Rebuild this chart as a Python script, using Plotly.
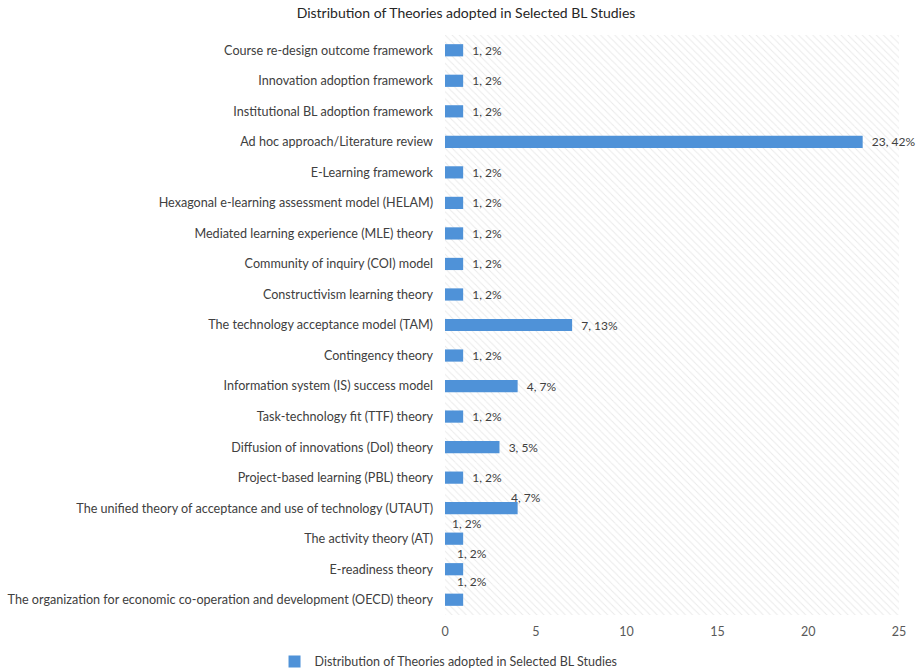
import plotly.graph_objects as go

# Theories and how many selected BL studies adopted each (count, share of 55)
theories = [
    "Course re-design outcome framework",
    "Innovation adoption framework",
    "Institutional BL adoption framework",
    "Ad hoc approach/Literature review",
    "E-Learning framework",
    "Hexagonal e-learning assessment model (HELAM)",
    "Mediated learning experience (MLE) theory",
    "Community of inquiry (COI) model",
    "Constructivism learning theory",
    "The technology acceptance model (TAM)",
    "Contingency theory",
    "Information system (IS) success model",
    "Task-technology fit (TTF) theory",
    "Diffusion of innovations (DoI) theory",
    "Project-based learning (PBL) theory",
    "The unified theory of acceptance and use of technology (UTAUT)",
    "The activity theory (AT)",
    "E-readiness theory",
    "The organization for economic co-operation and development (OECD) theory",
]
counts = [1, 1, 1, 23, 1, 1, 1, 1, 1, 7, 1, 4, 1, 3, 1, 4, 1, 1, 1]
percents = [2, 2, 2, 42, 2, 2, 2, 2, 2, 13, 2, 7, 2, 5, 2, 7, 2, 2, 2]
x_ticks = [0, 5, 10, 15, 20, 25]

series_name = "Distribution of Theories adopted in Selected BL Studies"
bar_color = "#4f92d8"
text_color = "#404040"
font_family = "Lato, Open Sans, sans-serif"

labels = [f"{c}, {p}%" for c, p in zip(counts, percents)]
# the last four labels sit above their bars
n_above = 4
inline_labels = ["  " + s for s in labels[:-n_above]] + [""] * n_above

fig = go.Figure()

# hatched plot background
fig.add_trace(go.Bar(
    y=theories, x=[x_ticks[-1]] * len(theories), orientation="h", width=1,
    marker=dict(color="white", line=dict(width=0),
                pattern=dict(shape="\\", fgcolor="#d6d6d6", bgcolor="white",
                             size=5, solidity=0.2)),
    hoverinfo="skip", showlegend=False,
))

fig.add_trace(go.Bar(
    y=theories, x=counts, orientation="h", width=0.4,
    name=series_name,
    marker=dict(color=bar_color, line=dict(width=0)),
    text=inline_labels, textposition="outside", cliponaxis=False,
    constraintext="none",
    textfont=dict(size=12, color=text_color, family=font_family),
))

x_shifts = [-9, -13, -8, -8]
y_shifts = [11, 15, 16, 18]
for name, c, lab, xs, ys in zip(theories[-n_above:], counts[-n_above:],
                                labels[-n_above:], x_shifts, y_shifts):
    fig.add_annotation(x=c, y=name, text=lab, showarrow=False, xanchor="left",
                       xshift=xs, yshift=ys,
                       font=dict(size=12, color=text_color, family=font_family))

fig.update_layout(
    width=921, height=672,
    margin=dict(l=445, r=22, t=35, b=57, autoexpand=False),
    barmode="overlay",
    paper_bgcolor="white", plot_bgcolor="white",
    font=dict(family=font_family, color=text_color, size=12),
    title=dict(text=series_name, x=0.506, xanchor="center", y=0.988, yanchor="top",
               font=dict(size=14, color="#262626", family=font_family)),
    showlegend=True,
    legend=dict(orientation="h", xref="container", yref="paper",
                x=0.487, xanchor="center", y=-0.055, yanchor="top",
                itemwidth=30,
                font=dict(size=12.5, color=text_color)),
    xaxis=dict(range=[0, 25], tickvals=x_ticks, showgrid=False, zeroline=False,
               showline=False, ticks="", ticklabelstandoff=7,
               tickfont=dict(size=12.5, color="#595959")),
    yaxis=dict(range=[len(theories) - 0.5, -0.5], showgrid=False, showline=False,
               ticks="", ticklabelstandoff=11,
               tickfont=dict(size=12.6, color=text_color)),
)

fig.write_html("out.html")
